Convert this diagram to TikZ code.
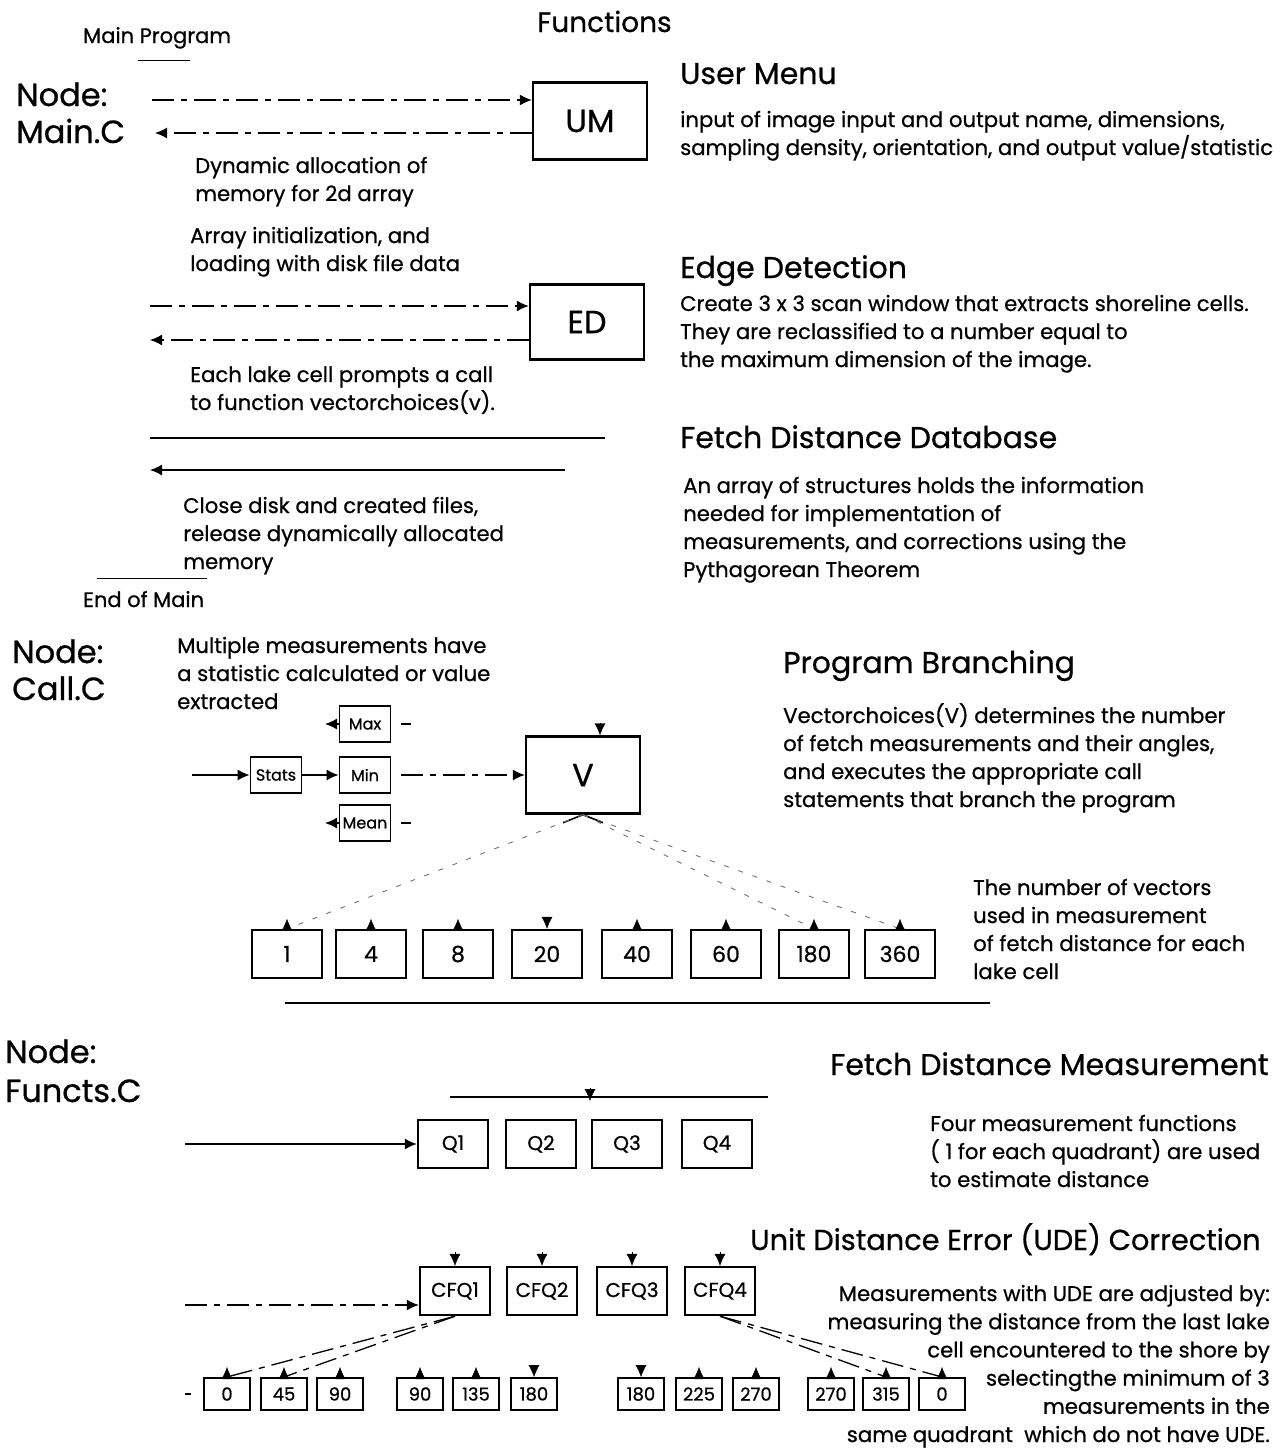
\documentclass[tikz,border=0pt]{standalone}
\usepackage{fontspec}
\setmainfont{Poppins}[UprightFeatures={FakeBold=0.7}]
\usetikzlibrary{arrows.meta}
\tikzset{
  fnbox/.style = {draw, line width=2.4pt, inner sep=0pt,
                  minimum width=114pt, minimum height=77pt,
                  font=\fontsize{32}{32}\selectfont},
  statbox/.style = {draw, line width=1.8pt, inner sep=0pt,
                    minimum width=51pt, minimum height=36pt,
                    font=\fontsize{16}{16}\selectfont},
  numbox/.style = {draw, line width=2.4pt, inner sep=0pt,
                   minimum width=70pt, minimum height=48pt,
                   font=\fontsize{22}{22}\selectfont},
  qbox/.style = {draw, line width=2.4pt, inner sep=0pt,
                 minimum width=70pt, minimum height=48pt,
                 font=\fontsize{20}{20}\selectfont},
  angbox/.style = {draw, line width=2pt, inner sep=0pt,
                   minimum width=46pt, minimum height=32pt,
                   font=\fontsize{18}{18}\selectfont},
  heading/.style = {anchor=base west, inner sep=0pt,
                    font=\fontsize{30}{34}\selectfont},
  subtitle/.style = {anchor=base west, inner sep=0pt,
                     font=\fontsize{21}{21}\selectfont},
  nodename/.style = {anchor=base west, inner sep=0pt, align=left,
                     font=\fontsize{32}{37}\selectfont},
  body/.style = {anchor=base west, inner sep=0pt, align=left,
                 font=\fontsize{21.2}{28}\selectfont},
  arr/.style = {-{Latex[length=12pt,width=11pt]}},
  dashline/.style = {line width=1.3pt, dash pattern=on 22pt off 7pt on 6pt off 7pt},
  faint/.style = {line width=0.9pt, black!55, dash pattern=on 5pt off 10pt}
}

\begin{document}
\begin{tikzpicture}[x=1pt, y=-1pt]
	\fill[white] (0,0) rectangle (1288,1449);

	% Titles (multi-line nodes sit on their last base line)
	\node[heading, font=\fontsize{28}{28}\selectfont] (functions) at (537,32) {Functions};
	\node[subtitle] (mainprog) at (83,43) {Main Program};
	\draw[line width=1pt] (138,60) -- (190,60);

	% Node: Main.C
	\node[nodename] (mainc) at (16,143) {Node:\\Main.C};

	% User menu
	\node[fnbox] (UM) at (590,121) {UM};
	\coordinate (umin) at (152,100);
	\coordinate (umout) at (155,133);
	\draw[dashline, arr] (umin) -- (umin -| UM.west);
	\draw[dashline, arr] (umout -| UM.west) -- (umout);
	\node[heading] (umtitle) at (680,84) {User Menu};
	\node[body] (umtext) at (680,155) {input of image input and output name, dimensions,\\sampling density, orientation, and output value/statistic};
	\node[body] (alloc) at (195,201) {Dynamic allocation of\\memory for 2d array};
	\node[body] (init) at (190,271) {Array initialization, and\\loading with disk file data};

	% Edge detection
	\node[fnbox, minimum height=75pt] (ED) at (587,322) {ED};
	\coordinate (edin) at (150,306);
	\coordinate (edout) at (150,340);
	\draw[dashline, arr] (edin) -- (edin -| ED.west);
	\draw[dashline, arr] (edout -| ED.west) -- (edout);
	\node[heading] (edtitle) at (680,278) {Edge Detection};
	\node[body] (edtext) at (680,367) {Create 3 x 3 scan window that extracts shoreline cells.\\They are reclassified to a number equal to\\the maximum dimension of the image.};
	\node[body] (lakecall) at (190,410) {Each lake cell prompts a call\\to function vectorchoices(v).};

	% Fetch distance database
	\coordinate (fdbA) at (150,438);
	\coordinate (fdbB) at (605,438);
	\coordinate (fdbC) at (565,470);
	\coordinate (fdbD) at (150,470);
	\draw[line width=1.3pt] (fdbA) -- (fdbB);
	\draw[line width=1.3pt, arr] (fdbC) -- (fdbD);
	\node[heading] (fdbtitle) at (680,448) {Fetch Distance Database};
	\node[body] (fdbtext) at (683,577) {An array of structures holds the information\\needed for implementation of\\measurements, and corrections using the\\Pythagorean Theorem};
	\node[body] (close) at (183,569) {Close disk and created files,\\release dynamically allocated\\memory};
	\draw[line width=1pt] (97,578) -- (207,578);
	\node[subtitle] (endmain) at (83,607) {End of Main};

	% Node: Call.C
	\node[nodename] (callc) at (12,700) {Node:\\Call.C};
	\node[body] (multi) at (177,709) {Multiple measurements have\\a statistic calculated or value\\extracted};
	\node[statbox] (Max) at (365,724) {Max};
	\node[statbox] (Min) at (365,775) {Min};
	\node[statbox] (Mean) at (365,823) {Mean};
	\node[statbox] (Stats) at (276,775) {Stats};
	\node[fnbox] (V) at (583,775) {V};
	\coordinate (statsin) at (192,775);
	\coordinate (maxout) at (325,724);
	\coordinate (meanout) at (325,823);
	\draw[line width=1.3pt, arr] (statsin) -- (Stats);
	\draw[line width=1.3pt, arr] (Stats) -- (Min);
	\draw[line width=1.3pt, arr] (Max) -- (maxout);
	\draw[line width=1.3pt, arr] (Mean) -- (meanout);
	\draw[line width=1.3pt] ([xshift=10pt]Max.east) -- ([xshift=20pt]Max.east);
	\draw[line width=1.3pt] ([xshift=10pt]Mean.east) -- ([xshift=20pt]Mean.east);
	\draw[dashline, arr] ([xshift=10pt]Min.east) -- (V);
	\draw[arr] ([xshift=17pt,yshift=12pt]V.north) -- ([xshift=17pt]V.north);
	\draw[line width=1.6pt] ([xshift=-20pt,yshift=-8pt]V.south) -- (V.south) -- ([xshift=20pt,yshift=-8pt]V.south);
	\node[heading] (pbtitle) at (783,673) {Program Branching};
	\node[body] (pbtext) at (783,807) {Vectorchoices(V) determines the number\\of fetch measurements and their angles,\\and executes the appropriate call\\statements that branch the program};

	% Number of vectors
	\node[numbox] (n1) at (287,954) {1};
	\node[numbox] (n4) at (371,954) {4};
	\node[numbox] (n8) at (458,954) {8};
	\node[numbox] (n20) at (547,954) {20};
	\node[numbox] (n40) at (637,954) {40};
	\node[numbox] (n60) at (726,954) {60};
	\node[numbox] (n180) at (814,954) {180};
	\node[numbox] (n360) at (900,954) {360};
	\draw[faint] (V.south) -- (n1.north);
	\draw[faint] (V.south) -- (n180.north);
	\draw[faint] (V.south) -- (n360.north);
	\draw[arr] (n1.north) -- ([yshift=10pt]n1.north);
	\draw[arr] (n4.north) -- ([yshift=10pt]n4.north);
	\draw[arr] (n8.north) -- ([yshift=10pt]n8.north);
	\draw[arr] ([yshift=12pt]n20.north) -- (n20.north);
	\draw[arr] (n40.north) -- ([yshift=10pt]n40.north);
	\draw[arr] (n60.north) -- ([yshift=10pt]n60.north);
	\draw[arr] (n180.north) -- ([yshift=10pt]n180.north);
	\draw[arr] (n360.north) -- ([yshift=10pt]n360.north);
	\node[body] (vectext) at (973,979) {The number of vectors\\used in measurement\\of fetch distance for each\\lake cell};
	\draw[line width=1.3pt] (285,1003) -- (990,1003);

	% Node: Functs.C
	\node[nodename, font=\fontsize{32}{39}\selectfont] (functsc) at (5,1102) {Node:\\Functs.C};
	\node[heading] (fdmtitle) at (830,1075) {Fetch Distance Measurement};
	\node[qbox] (Q1) at (453,1144) {Q1};
	\node[qbox] (Q2) at (541,1144) {Q2};
	\node[qbox] (Q3) at (627,1144) {Q3};
	\node[qbox] (Q4) at (717,1144) {Q4};
	\coordinate (qbusL) at (450,1097);
	\coordinate (qbusR) at (768,1097);
	\coordinate (qbusT) at (590,1088);
	\coordinate (qbusM) at (590,1101);
	\coordinate (qin) at (185,1144);
	\draw[line width=1.3pt] (qbusL) -- (qbusR);
	\draw[arr] (qbusT) -- (qbusM);
	\draw[line width=1.3pt, arr] (qin) -- (Q1);
	\node[body] (quadtext) at (930,1187) {Four measurement functions\\( 1 for each quadrant) are used\\to estimate distance};

	% UDE correction
	\node[heading, font=\fontsize{28.8}{34}\selectfont] (udetitle) at (750,1250) {Unit Distance Error (UDE) Correction};
	\node[qbox] (CFQ1) at (455,1291) {CFQ1};
	\node[qbox] (CFQ2) at (542,1291) {CFQ2};
	\node[qbox] (CFQ3) at (632,1291) {CFQ3};
	\node[qbox] (CFQ4) at (720,1291) {CFQ4};
	\draw[arr] ([yshift=14pt]CFQ1.north) -- (CFQ1.north);
	\draw[arr] ([yshift=14pt]CFQ2.north) -- (CFQ2.north);
	\draw[arr] ([yshift=14pt]CFQ3.north) -- (CFQ3.north);
	\draw[arr] ([yshift=14pt]CFQ4.north) -- (CFQ4.north);
	\coordinate (cfqin) at (185,1305);
	\draw[dashline, arr] (cfqin) -- (cfqin -| CFQ1.west);

	\node[angbox] (a1) at (227,1394) {0};
	\node[angbox] (a2) at (284,1394) {45};
	\node[angbox] (a3) at (340,1394) {90};
	\node[angbox] (a4) at (420,1394) {90};
	\node[angbox] (a5) at (476,1394) {135};
	\node[angbox] (a6) at (534,1394) {180};
	\node[angbox] (a7) at (641,1394) {180};
	\node[angbox] (a8) at (699,1394) {225};
	\node[angbox] (a9) at (756,1394) {270};
	\node[angbox] (a10) at (831,1394) {270};
	\node[angbox] (a11) at (886,1394) {315};
	\node[angbox] (a12) at (942,1394) {0};
	\draw[dashline] (CFQ1.south) -- (a1.north);
	\draw[dashline] (CFQ1.south) -- (a2.north);
	\draw[dashline] (CFQ4.south) -- (a11.north);
	\draw[dashline] (CFQ4.south) -- (a12.north);
	\draw[arr] (a1.north) -- ([yshift=10pt]a1.north);
	\draw[arr] (a2.north) -- ([yshift=10pt]a2.north);
	\draw[arr] (a3.north) -- ([yshift=10pt]a3.north);
	\draw[arr] (a4.north) -- ([yshift=10pt]a4.north);
	\draw[arr] (a5.north) -- ([yshift=10pt]a5.north);
	\draw[arr] ([yshift=12pt]a6.north) -- (a6.north);
	\draw[arr] ([yshift=12pt]a7.north) -- (a7.north);
	\draw[arr] (a8.north) -- ([yshift=10pt]a8.north);
	\draw[arr] (a9.north) -- ([yshift=10pt]a9.north);
	\draw[arr] (a10.north) -- ([yshift=10pt]a10.north);
	\draw[arr] (a11.north) -- ([yshift=10pt]a11.north);
	\draw[arr] (a12.north) -- ([yshift=10pt]a12.north);
	\draw[line width=1.3pt] ([xshift=-18pt]a1.west) -- ([xshift=-12pt]a1.west);
	\node[body, anchor=base east, align=right, font=\fontsize{21.2}{28.2}\selectfont] (udetext) at (1270,1442) {Measurements with UDE are adjusted by:\\measuring the distance from the last lake\\cell encountered to the shore by\\selectingthe minimum of 3\\measurements in the\\same quadrant\ \ which do not have UDE.};

\end{tikzpicture}
\end{document}
